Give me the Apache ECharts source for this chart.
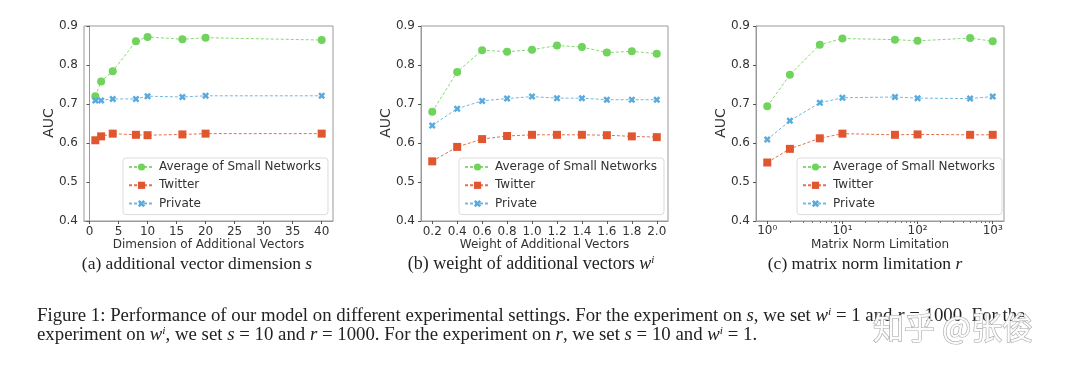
<!DOCTYPE html>
<html>
<head>
<meta charset="utf-8">
<script src="https://cdn.jsdelivr.net/npm/echarts@6/dist/echarts.min.js"></script>
<style>html,body{margin:0;padding:0;background:#fff;}#c{width:1080px;height:374px;}</style>
</head>
<body>
<div id="c"></div>
<script>
// ---- data ----
const seriesNames = ['Average of Small Networks', 'Twitter', 'Private'];
const yTicks = [0.4, 0.5, 0.6, 0.7, 0.8, 0.9];

const dimX = [1, 2, 4, 8, 10, 16, 20, 40];
const dimTicks = [0, 5, 10, 15, 20, 25, 30, 35, 40];
const dimAvg = [0.720, 0.758, 0.784, 0.861, 0.872, 0.866, 0.870, 0.864];
const dimTwitter = [0.607, 0.617, 0.624, 0.621, 0.620, 0.622, 0.624, 0.624];
const dimPrivate = [0.709, 0.709, 0.713, 0.713, 0.720, 0.718, 0.721, 0.721];

const wX = [0.2, 0.4, 0.6, 0.8, 1.0, 1.2, 1.4, 1.6, 1.8, 2.0];
const wTicks = [0.2, 0.4, 0.6, 0.8, 1.0, 1.2, 1.4, 1.6, 1.8, 2.0];
const wAvg = [0.680, 0.782, 0.838, 0.834, 0.839, 0.850, 0.846, 0.832, 0.835, 0.829];
const wTwitter = [0.553, 0.590, 0.610, 0.618, 0.621, 0.621, 0.621, 0.620, 0.617, 0.615];
const wPrivate = [0.645, 0.688, 0.708, 0.714, 0.719, 0.715, 0.715, 0.711, 0.711, 0.711];

const rX = [1, 2, 5, 10, 50, 100, 500, 1000];
const rTicks = [1, 10, 100, 1000];
const rTickLabels = ['10\u2070', '10\u00b9', '10\u00b2', '10\u00b3'];
const rMinorTicks = [2,3,4,5,6,7,8,9,20,30,40,50,60,70,80,90,200,300,400,500,600,700,800,900];
const rAvg = [0.694, 0.775, 0.852, 0.868, 0.865, 0.862, 0.869, 0.861];
const rTwitter = [0.550, 0.585, 0.612, 0.624, 0.621, 0.622, 0.621, 0.621];
const rPrivate = [0.609, 0.657, 0.703, 0.716, 0.718, 0.715, 0.714, 0.719];

// ---- style ----
const colors = ['#6fd35c', '#e0562f', '#5aaadd'];
const symbols = ['circle', 'rect', 'path://M0,25L25,0L50,25L75,0L100,25L75,50L100,75L75,100L50,75L25,100L0,75L25,50Z'];
const symSizes = [8, 8, 7];
const spine = '#9a9a9a';
const tickColor = '#333';
const FONT = 'DejaVu Sans';
const FS = 12;

const grids = [
  {left: 84, top: 26, width: 249, height: 195},
  {left: 421, top: 26, width: 247, height: 195},
  {left: 756, top: 26, width: 248, height: 195}
];
const legendLeft = [123, 459, 797];
const yNamesX = [49, 386, 721];

function xBase(gi) {
  return {
    gridIndex: gi, position: 'bottom',
    axisLine: {show: true, onZero: false, lineStyle: {color: spine, width: 1}},
    splitLine: {show: false},
    nameLocation: 'middle', nameGap: 18, nameMoveOverlap: false,
    nameTextStyle: {color: tickColor, fontFamily: FONT, fontSize: FS, verticalAlign: 'top'}
  };
}
const tickStyle = {color: '#555'};

const xAxes = [
  Object.assign(xBase(0), {type: 'value', min: -0.95, max: 41.95, name: 'Dimension of Additional Vectors',
    axisTick: {show: true, length: 3, customValues: dimTicks, lineStyle: tickStyle},
    axisLabel: {color: tickColor, fontFamily: FONT, fontSize: FS, margin: 5, customValues: dimTicks}}),
  Object.assign(xBase(1), {type: 'value', min: 0.11, max: 2.09, name: 'Weight of Additional Vectors',
    axisTick: {show: true, length: 3, customValues: wTicks, lineStyle: tickStyle},
    axisLabel: {color: tickColor, fontFamily: FONT, fontSize: FS, margin: 5, customValues: wTicks,
      formatter: v => v.toFixed(1)}}),
  Object.assign(xBase(2), {type: 'log', logBase: 10, min: Math.pow(10, -0.15), max: Math.pow(10, 3.15), name: 'Matrix Norm Limitation',
    axisTick: {show: true, length: 3, customValues: rTicks, lineStyle: tickStyle},
    axisLabel: {color: tickColor, fontFamily: FONT, fontSize: FS, margin: 4, customValues: rTicks,
      formatter: v => rTickLabels[rTicks.indexOf(Math.round(v))] || String(v)}}),
  {type: 'log', gridIndex: 2, position: 'bottom', logBase: 10, min: Math.pow(10, -0.15), max: Math.pow(10, 3.15),
    axisLine: {show: false}, splitLine: {show: false}, axisLabel: {show: false},
    axisTick: {show: true, length: 2, customValues: rMinorTicks, lineStyle: {color: '#777'}}}
];

const yAxes = [0, 1, 2].map(gi => ({
  type: 'value', gridIndex: gi, min: 0.4, max: 0.9, interval: 0.1,
  axisLine: {show: true, lineStyle: {color: spine, width: 1}},
  axisTick: {show: true, length: 3, lineStyle: tickStyle},
  axisLabel: {color: tickColor, fontFamily: FONT, fontSize: FS, margin: 6, formatter: v => v.toFixed(1)},
  splitLine: {show: false}
}));

function mk(k, xs, ys, gi) {
  return {
    type: 'line', name: seriesNames[k], xAxisIndex: gi, yAxisIndex: gi,
    data: xs.map((x, i) => [x, ys[i]]),
    symbol: symbols[k], symbolSize: symSizes[k], showSymbol: true,
    itemStyle: {color: colors[k], opacity: 1},
    lineStyle: {color: colors[k], width: 1, type: [3, 2], opacity: 0.85},
    animation: false, silent: true, z: 3 + k
  };
}

const series = [
  mk(0, dimX, dimAvg, 0), mk(1, dimX, dimTwitter, 0), mk(2, dimX, dimPrivate, 0),
  mk(0, wX, wAvg, 1), mk(1, wX, wTwitter, 1), mk(2, wX, wPrivate, 1),
  mk(0, rX, rAvg, 2), mk(1, rX, rTwitter, 2), mk(2, rX, rPrivate, 2)
];

const legends = legendLeft.map(l => ({
  data: seriesNames, orient: 'vertical', left: l, top: 158,
  itemWidth: 25, itemHeight: 9, itemGap: 6.3,
  padding: [3, 7, 5, 5],
  backgroundColor: 'rgba(255,255,255,0.85)', borderColor: '#dcdcdc', borderWidth: 1, borderRadius: 3,
  textStyle: {color: '#333', fontFamily: FONT, fontSize: FS, lineHeight: 12},
  selectedMode: false, z: 10
}));

function capText(x, y, text, align, fs, sx) {
  return {type: 'text', x: x, y: y, z: 20, silent: true, scaleX: sx || 1,
    style: {text: text, fontFamily: 'Liberation Serif', fontSize: fs, fill: '#222',
      align: align || 'center', verticalAlign: 'middle',
      rich: {
        i: {fontFamily: 'Liberation Serif', fontStyle: 'italic', fontSize: fs, fill: '#222'},
        sup: {fontFamily: 'Liberation Serif', fontStyle: 'italic', fontSize: Math.round(fs * 0.62), verticalAlign: 'top', fill: '#222'}
      }}};
}

const graphic = [
  capText(197, 264, '(a) additional vector dimension {i|s}', 'center', 17.5),
  capText(531, 264, '(b) weight of additional vectors {i|w}{sup|i}', 'center', 18),
  capText(865, 264, '(c) matrix norm limitation {i|r}', 'center', 17.5),
  capText(37, 316, 'Figure 1: Performance of our model on different experimental settings. For the experiment on {i|s}, we set {i|w}{sup|i} = 1 and {i|r} = 1000. For the', 'left', 18, 1.045),
  capText(37, 335, 'experiment on {i|w}{sup|i}, we set {i|s} = 10 and {i|r} = 1000. For the experiment on {i|r}, we set {i|s} = 10 and {i|w}{sup|i} = 1.', 'left', 18, 1.045),
  {type: 'text', x: 873, y: 327, z: 30, silent: true,
    style: {text: '知乎 @张俊', fontFamily: 'Noto Sans CJK SC', fontSize: 31, fill: 'rgba(255,255,255,0.92)',
      stroke: '#a8a8a8', lineWidth: 1.2, align: 'left', verticalAlign: 'middle'}}
].concat(yNamesX.map(x => ({
  type: 'text', x: x, y: 123, rotation: Math.PI / 2, z: 20, silent: true,
  style: {text: 'AUC', fontFamily: FONT, fontSize: 14, fill: '#333', align: 'center', verticalAlign: 'middle'}
})));

const chart = echarts.init(document.getElementById('c'), null, {renderer: 'canvas'});
chart.setOption({
  animation: false,
  backgroundColor: '#fff',
  grid: grids.map(g => Object.assign({show: true, borderColor: spine, borderWidth: 1, backgroundColor: 'transparent'}, g)),
  xAxis: xAxes,
  yAxis: yAxes,
  legend: legends,
  series: series,
  graphic: graphic
});
</script>
</body>
</html>
